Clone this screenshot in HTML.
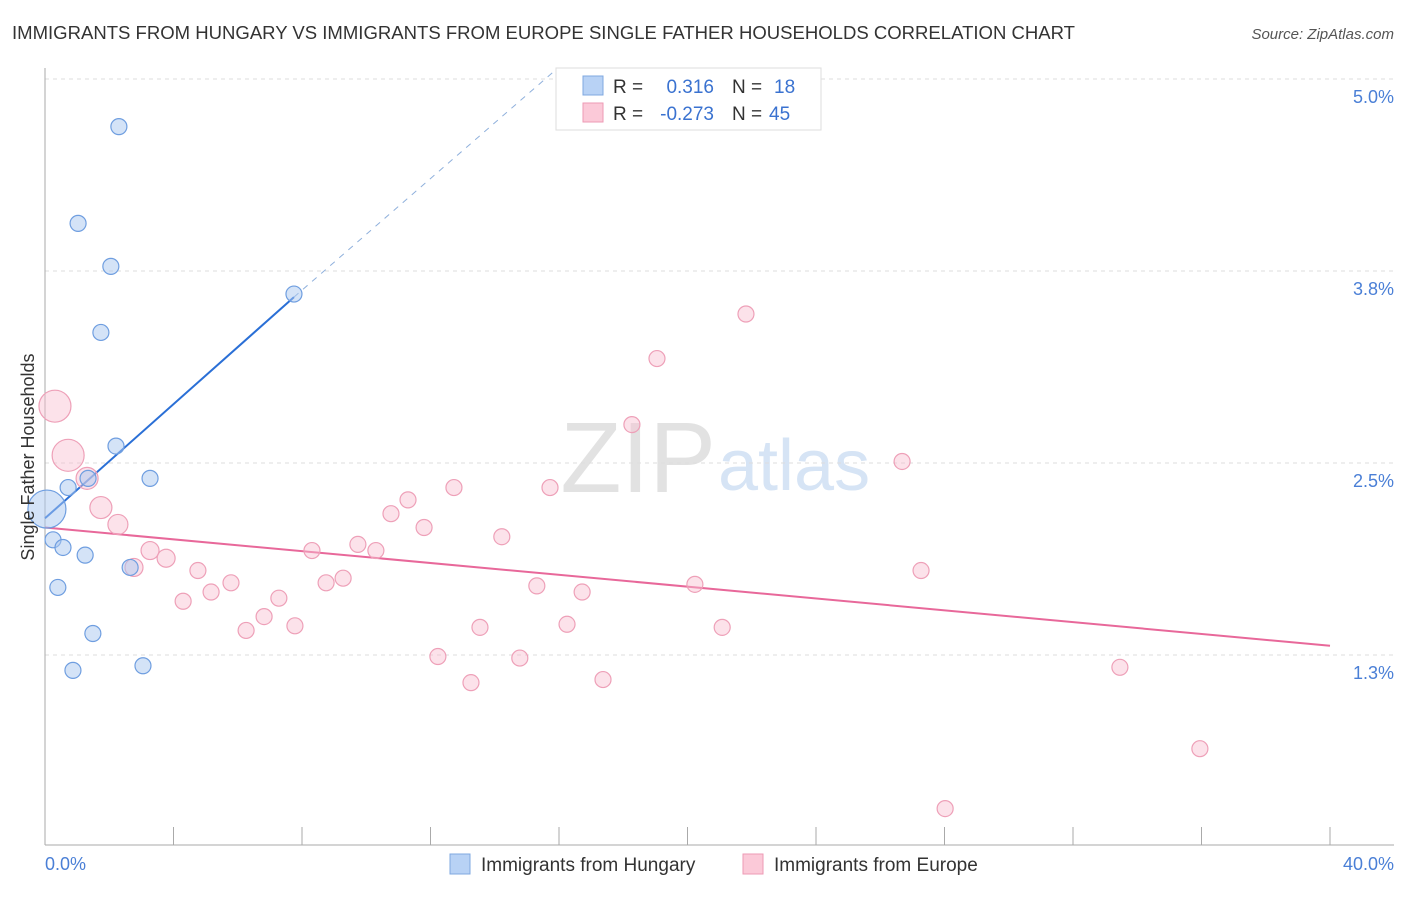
<!DOCTYPE html>
<html><head><meta charset="utf-8"><style>
body{margin:0;background:#fff;font-family:"Liberation Sans",sans-serif;}
svg text{font-family:"Liberation Sans",sans-serif;}
</style></head><body>
<svg id="chart" width="1406" height="892">
<text x="12" y="39" font-size="18" fill="#333" textLength="1063" lengthAdjust="spacingAndGlyphs">IMMIGRANTS FROM HUNGARY VS IMMIGRANTS FROM EUROPE SINGLE FATHER HOUSEHOLDS CORRELATION CHART</text>
<text x="1394" y="39" font-size="15" fill="#555" font-style="italic" text-anchor="end">Source: ZipAtlas.com</text>
<text x="716" y="492" font-size="100" fill="#e2e2e2" text-anchor="end" font-family="Liberation Serif">ZIP</text>
<text x="718" y="490" font-size="72" fill="#d6e4f5">atlas</text>
<g id="grid"></g><g id="axes"></g><g id="lines"></g><g id="pts"></g>
<text transform="translate(34,457) rotate(-90)" font-size="18" fill="#333" text-anchor="middle">Single Father Households</text>
<text x="45" y="870" font-size="18" fill="#4a7fd6">0.0%</text>
<text x="1394" y="870" font-size="18" fill="#4a7fd6" text-anchor="end">40.0%</text>
<g>
<rect x="556" y="68" width="265" height="62" fill="#fff" stroke="#ddd"/>
<rect x="583" y="76" width="20" height="19" fill="#b8d2f5" stroke="#7fa8e0"/>
<rect x="583" y="103" width="20" height="19" fill="#fbc9d8" stroke="#ee9ab4"/>
<text x="613" y="93" font-size="19" fill="#333">R =</text><text x="714" y="93" font-size="19" fill="#3a72d0" text-anchor="end">0.316</text>
<text x="732" y="93" font-size="19" fill="#333">N =</text><text x="774" y="93" font-size="19" fill="#3a72d0">18</text>
<text x="613" y="120" font-size="19" fill="#333">R =</text><text x="714" y="120" font-size="19" fill="#3a72d0" text-anchor="end">-0.273</text>
<text x="732" y="120" font-size="19" fill="#333">N =</text><text x="769" y="120" font-size="19" fill="#3a72d0">45</text>
</g>
<g>
<rect x="450" y="854" width="20" height="20" fill="#b8d2f5" stroke="#7fa8e0"/>
<text x="481" y="871" font-size="19" fill="#333">Immigrants from Hungary</text>
<rect x="743" y="854" width="20" height="20" fill="#fbc9d8" stroke="#ee9ab4"/>
<text x="774" y="871" font-size="19" fill="#333">Immigrants from Europe</text>
</g>
</svg>
<script>
const yTicks=[5.0,3.75,2.5,1.25];
const yTickLabels=["5.0%","3.8%","2.5%","1.3%"];
const xTicks=[0,4,8,12,16,20,24,28,32,36,40];
const hungX=[2.30,1.03,2.05,1.74,7.75,2.21,3.27,0.72,1.34,0.06,0.25,0.56,1.25,2.65,0.40,1.49,3.05,0.87];
const hungY=[4.69,4.06,3.78,3.35,3.60,2.61,2.40,2.34,2.40,2.20,2.00,1.95,1.90,1.82,1.69,1.39,1.18,1.15];
const hungR=[8,8,8,8,8,8,8,8,8,19,8,8,8,8,8,8,8,8];
const eurX=[0.31,0.72,1.31,1.74,2.27,3.27,3.77,2.77,4.76,4.30,5.17,5.79,6.26,6.82,7.28,7.78,8.31,8.75,9.28,9.74,10.30,10.77,11.30,11.80,12.73,12.23,13.26,13.54,14.22,14.78,15.31,15.72,16.25,16.72,17.37,18.27,19.05,20.23,21.08,21.82,26.68,27.27,33.46,35.95,28.02];
const eurY=[2.87,2.55,2.40,2.21,2.10,1.93,1.88,1.82,1.80,1.60,1.66,1.72,1.41,1.50,1.62,1.44,1.93,1.72,1.75,1.97,1.93,2.17,2.26,2.08,2.34,1.24,1.07,1.43,2.02,1.23,1.70,2.34,1.45,1.66,1.09,2.75,3.18,1.71,1.43,3.47,2.51,1.80,1.17,0.64,0.25];
const eurR=[16,16,11,11,10,9,9,9,8,8,8,8,8,8,8,8,8,8,8,8,8,8,8,8,8,8,8,8,8,8,8,8,8,8,8,8,8,8,8,8,8,8,8,8,8];
const hungTrend=[[0,2.14],[7.75,3.58]];
const hungTrendExt=[[7.75,3.58],[15.9,5.06]];
const eurTrend=[[0,2.08],[40,1.31]];
const NS="http://www.w3.org/2000/svg";
const X=v=>45+v/40*1285;
const Y=v=>655-(v-1.25)*153.6;
function mk(tag,attrs,parent){const e=document.createElementNS(NS,tag);for(const k in attrs)e.setAttribute(k,attrs[k]);document.getElementById(parent).appendChild(e);return e;}
yTicks.forEach((t,i)=>{
 const g=mk('line',{x1:45,x2:1394,y1:Y(t),y2:Y(t),stroke:'#ddd','stroke-dasharray':'4,4'},'grid');
 
 
 const l=mk('text',{x:1394,y:Y(t)+24,'font-size':18,fill:'#4a7fd6','text-anchor':'end'},'grid');
 l.textContent=yTickLabels[i];
 
 
});
const ax=mk('line',{x1:45,x2:45,y1:68,y2:845,stroke:'#aaa'},'axes');


const bx=mk('line',{x1:45,x2:1394,y1:845,y2:845,stroke:'#aaa'},'axes');


xTicks.forEach(t=>{
 const k=mk('line',{x1:X(t),x2:X(t),y1:827,y2:845,stroke:'#aaa'},'axes');
 
 
});
function pts(xs,ys,rs,fill,stroke,name){
 xs.forEach((x,i)=>{
  const c=mk('circle',{cx:X(x),cy:Y(ys[i]),r:rs[i],fill:fill,stroke:stroke,'stroke-width':1.2},'pts');
  
  
 });
}
pts(eurX,eurY,eurR,'rgba(248,190,208,0.45)','#eea0b8','europe-point');
pts(hungX,hungY,hungR,'rgba(170,200,240,0.5)','#6f9ee0','hungary-point');
function ln(p,stroke,w,dash,name){
 const a={x1:X(p[0][0]),y1:Y(p[0][1]),x2:X(p[1][0]),y2:Y(p[1][1]),stroke:stroke,'stroke-width':w};
 if(dash)a['stroke-dasharray']=dash;
 const l=mk('line',a,'lines');
 
 
}
ln(hungTrend,'#2a6fd6',2,null,'hungary-trendline');
ln(hungTrendExt,'#8fb0dc',1,'6,6','hungary-trendline-extension');
ln(eurTrend,'#e8689a',2,null,'europe-trendline');
</script>
</body></html>
